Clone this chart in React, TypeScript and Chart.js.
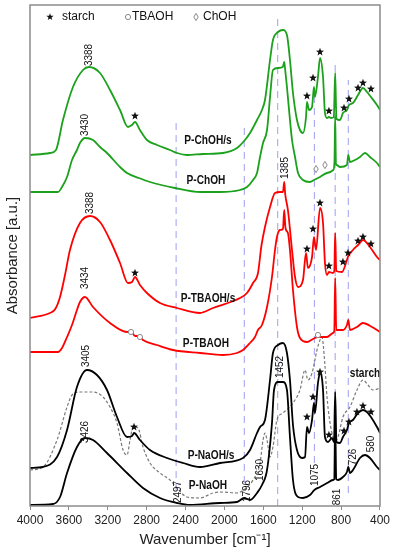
import React, { useEffect, useRef } from "react";
import { Chart, registerables } from "chart.js";

Chart.register(...registerables);

type Pt = [number, number];

// [wavenumber cm-1, absorbance a.u. (offset)]
const P_ChOH_s: Pt[] = [
  [4000, 3.51], [3794, 3.53], [3733, 3.56], [3661, 3.86], [3558, 4.19], [3455, 4.36], [3393, 4.39], [3280, 4.33],
  [3177, 4.16], [3074, 3.96], [2992, 3.79], [2951, 3.81], [2920, 3.84], [2869, 3.76], [2797, 3.66], [2694, 3.61],
  [2560, 3.56], [2488, 3.53], [2385, 3.51], [2220, 3.52], [2015, 3.53], [1871, 3.58], [1789, 3.66], [1737, 3.73],
  [1665, 3.86], [1614, 3.96], [1583, 4.06], [1531, 4.46], [1501, 4.66], [1449, 4.74], [1398, 4.76], [1357, 4.71],
  [1326, 4.46], [1295, 4.13], [1254, 3.86], [1223, 3.76], [1192, 3.73], [1161, 3.89], [1151, 4.04], [1130, 3.96],
  [1099, 3.99], [1079, 4.19], [1069, 4.09], [1038, 4.29], [1017, 4.48], [986, 4.29], [966, 3.93], [945, 3.88],
  [925, 3.89], [904, 3.88], [875, 3.89], [861, 4.33], [848, 3.87], [811, 3.86], [781, 3.93], [740, 3.96],
  [719, 4.01], [678, 4.03], [626, 4.11], [575, 4.18], [534, 4.14], [493, 4.09], [431, 4.01], [400, 3.96],
];

const P_ChOH: Pt[] = [
  [4000, 3.14], [3712, 3.14], [3671, 3.19], [3619, 3.29], [3568, 3.46], [3517, 3.56], [3486, 3.63], [3434, 3.68],
  [3352, 3.66], [3280, 3.59], [3208, 3.53], [3074, 3.39], [3002, 3.33], [2880, 3.28], [2766, 3.24], [2509, 3.18],
  [2251, 3.14], [2046, 3.14], [1840, 3.16], [1768, 3.19], [1706, 3.26], [1665, 3.33], [1634, 3.49], [1603, 3.63],
  [1562, 3.76], [1531, 4.09], [1501, 4.36], [1449, 4.38], [1400, 4.39], [1385, 4.44], [1375, 4.36], [1357, 4.19],
  [1326, 3.86], [1305, 3.66], [1274, 3.49], [1243, 3.33], [1192, 3.26], [1120, 3.24], [1079, 3.26], [1017, 3.29],
  [945, 3.33], [880, 3.36], [868, 3.45], [861, 3.90], [853, 3.42], [845, 3.41], [811, 3.39], [740, 3.41],
  [726, 3.51], [709, 3.44], [657, 3.46], [606, 3.49], [554, 3.53], [503, 3.49], [431, 3.43], [400, 3.39],
];

const P_TBAOH_s: Pt[] = [
  [4000, 1.88], [3794, 1.93], [3740, 1.97], [3691, 2.09], [3640, 2.31], [3589, 2.56], [3486, 2.83], [3383, 2.90],
  [3280, 2.84], [3177, 2.66], [3074, 2.43], [2992, 2.23], [2951, 2.24], [2920, 2.29], [2869, 2.21], [2797, 2.13],
  [2663, 2.03], [2488, 1.98], [2251, 1.93], [2118, 1.98], [1840, 2.08], [1768, 2.13], [1706, 2.23], [1655, 2.33],
  [1620, 2.60], [1583, 2.79], [1531, 2.99], [1480, 3.13], [1429, 3.14], [1398, 3.14], [1385, 3.24], [1375, 3.12],
  [1347, 2.96], [1305, 2.56], [1274, 2.29], [1243, 2.19], [1192, 2.26], [1161, 2.53], [1141, 2.38], [1099, 2.49],
  [1079, 2.69], [1058, 2.56], [1017, 2.98], [986, 2.83], [966, 2.43], [945, 2.31], [925, 2.34], [883, 2.33],
  [870, 2.35], [861, 2.73], [850, 2.35], [791, 2.34], [740, 2.46], [726, 2.50], [678, 2.56], [626, 2.61],
  [575, 2.66], [503, 2.59], [431, 2.49], [400, 2.46],
];

const P_TBAOH: Pt[] = [
  [4000, 1.54], [3712, 1.54], [3671, 1.58], [3619, 1.69], [3568, 1.81], [3517, 1.96], [3486, 2.04], [3434, 2.09],
  [3352, 1.99], [3177, 1.83], [3002, 1.74], [2961, 1.75], [2920, 1.70], [2879, 1.70], [2838, 1.66], [2694, 1.61],
  [2529, 1.56], [2251, 1.53], [2015, 1.51], [1871, 1.53], [1809, 1.56], [1737, 1.63], [1686, 1.69], [1655, 1.76],
  [1614, 1.81], [1562, 1.99], [1511, 2.29], [1480, 2.56], [1460, 2.69], [1429, 2.76], [1398, 2.77], [1385, 2.96],
  [1372, 2.78], [1347, 2.73], [1326, 2.56], [1295, 2.16], [1254, 1.79], [1223, 1.68], [1151, 1.64], [1089, 1.67],
  [1038, 1.69], [945, 1.69], [883, 1.73], [870, 1.75], [861, 2.28], [850, 1.76], [781, 1.76], [740, 1.81],
  [726, 1.86], [709, 1.76], [637, 1.79], [575, 1.83], [482, 1.79], [400, 1.74],
];

const P_NaOH_s: Pt[] = [
  [4000, 0.38], [3866, 0.39], [3722, 0.49], [3619, 0.76], [3517, 1.19], [3414, 1.36], [3311, 1.31], [3208, 1.16],
  [3105, 0.89], [3002, 0.69], [2951, 0.70], [2930, 0.73], [2869, 0.66], [2766, 0.56], [2591, 0.48], [2426, 0.43],
  [2251, 0.39], [2046, 0.43], [1809, 0.48], [1737, 0.56], [1665, 0.73], [1634, 0.79], [1583, 0.86], [1531, 1.26],
  [1501, 1.53], [1449, 1.61], [1398, 1.63], [1357, 1.53], [1326, 1.26], [1295, 0.81], [1254, 0.56], [1202, 0.48],
  [1171, 0.49], [1151, 0.79], [1130, 0.73], [1099, 0.86], [1079, 1.03], [1069, 0.93], [1038, 1.23], [1017, 1.33],
  [986, 1.16], [966, 0.69], [935, 0.64], [894, 0.68], [873, 0.64], [861, 1.14], [848, 0.64], [811, 0.63],
  [781, 0.69], [740, 0.76], [719, 0.83], [678, 0.86], [626, 0.93], [575, 0.96], [534, 0.94], [493, 0.89],
  [431, 0.79], [400, 0.73],
];

const P_NaOH: Pt[] = [
  [4000, 0.01], [3763, 0.02], [3691, 0.09], [3619, 0.33], [3517, 0.59], [3434, 0.68], [3352, 0.66], [3208, 0.53],
  [3002, 0.33], [2838, 0.18], [2663, 0.08], [2488, 0.03], [2354, 0.01], [2046, 0.03], [1871, 0.04], [1796, 0.08],
  [1737, 0.06], [1665, 0.13], [1614, 0.21], [1562, 0.36], [1511, 0.83], [1490, 1.16], [1449, 1.24], [1398, 1.24],
  [1357, 1.16], [1326, 0.69], [1295, 0.26], [1243, 0.09], [1192, 0.08], [1120, 0.11], [1075, 0.16], [1017, 0.19],
  [945, 0.23], [883, 0.26], [870, 0.27], [861, 0.86], [850, 0.27], [832, 0.26], [781, 0.29], [740, 0.34],
  [726, 0.39], [709, 0.33], [678, 0.36], [606, 0.48], [554, 0.51], [503, 0.48], [431, 0.39], [400, 0.36],
];

const starch: Pt[] = [
  [4000, 0.36], [3866, 0.39], [3722, 0.66], [3619, 0.99], [3568, 1.11], [3486, 1.14], [3352, 1.14], [3249, 1.09],
  [3177, 0.99], [3105, 0.83], [3043, 0.56], [3002, 0.51], [2971, 0.66], [2940, 0.79], [2889, 0.78], [2838, 0.59],
  [2766, 0.43], [2663, 0.33], [2560, 0.26], [2488, 0.18], [2385, 0.09], [2251, 0.08], [2118, 0.13], [2015, 0.14],
  [1871, 0.13], [1768, 0.19], [1706, 0.26], [1634, 0.43], [1603, 0.66], [1583, 0.73], [1562, 0.66], [1531, 0.49],
  [1501, 0.59], [1460, 0.86], [1398, 0.93], [1295, 1.03], [1223, 1.16], [1171, 1.36], [1141, 1.26], [1099, 1.33],
  [1048, 1.56], [1017, 1.66], [997, 1.69], [966, 1.40], [945, 1.09], [894, 0.73], [853, 0.66], [832, 0.69],
  [781, 0.89], [709, 0.99], [637, 1.16], [575, 1.26], [524, 1.21], [472, 1.16], [400, 1.18],
];

// dashed reference lines
const refLineWn = [2497, 1796, 1452, 1075, 861, 726];
const refLineTop = [3.83, 3.79, 4.89, 4.16, 4.46, 4.26];
const refLineBottom = [0.16, 0.23, 0.0, 0.43, 0.26, 0.13];

const xTickValues = [4000, 3600, 3200, 2800, 2400, 2000, 1600, 1200, 800, 400];

const starMarks: Pt[] = [
  [2920, 3.90], [1151, 4.10], [1089, 4.28], [1017, 4.54], [925, 3.95], [770, 3.98], [719, 4.07], [626, 4.18], [575, 4.23], [493, 4.17],
  [2920, 2.33], [1151, 2.57], [1089, 2.77], [1017, 3.03], [925, 2.40], [781, 2.44], [729, 2.53], [626, 2.65], [575, 2.69], [493, 2.62],
  [2930, 0.79], [1151, 0.89], [1089, 1.09], [1017, 1.34], [925, 0.71], [770, 0.75], [719, 0.84], [637, 0.94], [575, 1.00], [493, 0.94],
];
const circleMarks: Pt[] = [[2961, 1.74], [2869, 1.69], [1038, 1.71]];
const diamondMarks: Pt[] = [[1058, 3.37], [966, 3.41]];

const peakLabels: [string, number, number][] = [
  ["3388", 3393, 4.51], ["3430", 3434, 3.81], ["1385", 1377, 3.38], ["3388", 3383, 3.03],
  ["3434", 3434, 2.28], ["3405", 3424, 1.50], ["3426", 3434, 0.74], ["2497", 2478, 0.14],
  ["1796", 1768, 0.15], ["1630", 1634, 0.36], ["1452", 1429, 1.39], ["1075", 1069, 0.31],
  ["861", 842, 0.09], ["726", 678, 0.49], ["580", 493, 0.62],
];
const sampleLabels: [string, number, number][] = [
  ["P-ChOH/s", 2169, 3.66], ["P-ChOH", 2190, 3.26], ["P-TBAOH/s", 2169, 2.08], ["P-TBAOH", 2190, 1.63],
  ["P-NaOH/s", 2138, 0.51], ["P-NaOH", 2169, 0.21], ["starch", 554, 1.33],
];
const legendLabels = ["starch", "TBAOH", "ChOH"];

const FONT = "'Liberation Sans', Arial, sans-serif";

function starPath(ctx: CanvasRenderingContext2D, cx: number, cy: number, r: number) {
  ctx.beginPath();
  for (let i = 0; i < 10; i++) {
    const ang = -Math.PI / 2 + (i * Math.PI) / 5;
    const rr = i % 2 === 0 ? r : r * 0.42;
    const px = cx + rr * Math.cos(ang);
    const py = cy + rr * Math.sin(ang);
    if (i === 0) ctx.moveTo(px, py);
    else ctx.lineTo(px, py);
  }
  ctx.closePath();
  ctx.fill();
}
function circlePath(ctx: CanvasRenderingContext2D, cx: number, cy: number) {
  ctx.beginPath();
  ctx.arc(cx, cy, 2.6, 0, Math.PI * 2);
  ctx.fillStyle = "#fff";
  ctx.fill();
  ctx.strokeStyle = "#8a8a8a";
  ctx.lineWidth = 1;
  ctx.stroke();
}
function diamondPath(ctx: CanvasRenderingContext2D, cx: number, cy: number) {
  ctx.beginPath();
  ctx.moveTo(cx, cy - 3.6);
  ctx.lineTo(cx + 2.2, cy);
  ctx.lineTo(cx, cy + 3.6);
  ctx.lineTo(cx - 2.2, cy);
  ctx.closePath();
  ctx.fillStyle = "#fff";
  ctx.fill();
  ctx.strokeStyle = "#8a8a8a";
  ctx.lineWidth = 1;
  ctx.stroke();
}

const annotatePlugin = {
  id: "annotate",
  afterDatasetsDraw(chart: any) {
    const { ctx, chartArea: a, scales } = chart;
    const x = scales.x;
    const y = scales.y;
    ctx.save();
    ctx.fillStyle = "#111";
    starMarks.forEach(([w, v]) => starPath(ctx, x.getPixelForValue(w), y.getPixelForValue(v), 4.2));
    circleMarks.forEach(([w, v]) => circlePath(ctx, x.getPixelForValue(w), y.getPixelForValue(v)));
    diamondMarks.forEach(([w, v]) => diamondPath(ctx, x.getPixelForValue(w), y.getPixelForValue(v)));

    // rotated peak labels
    ctx.fillStyle = "#111";
    ctx.font = `10px ${FONT}`;
    ctx.textAlign = "center";
    ctx.textBaseline = "middle";
    peakLabels.forEach(([t, w, v]) => {
      ctx.save();
      ctx.translate(x.getPixelForValue(w), y.getPixelForValue(v));
      ctx.rotate(-Math.PI / 2);
      ctx.fillText(t, 0, 0);
      ctx.restore();
    });

    // sample labels
    ctx.font = `bold 13px ${FONT}`;
    sampleLabels.forEach(([t, w, v]) => {
      ctx.save();
      ctx.translate(x.getPixelForValue(w), y.getPixelForValue(v));
      ctx.scale(0.78, 1);
      ctx.fillText(t, 0, 0);
      ctx.restore();
    });

    // legend
    ctx.font = `12px ${FONT}`;
    ctx.textAlign = "left";
    const ly = a.top + 12;
    ctx.fillStyle = "#111";
    starPath(ctx, a.left + 20, ly, 3.8);
    ctx.fillText(legendLabels[0], a.left + 32, ly);
    circlePath(ctx, a.left + 98, ly);
    ctx.fillStyle = "#111";
    ctx.fillText(legendLabels[1], a.left + 102, ly);
    diamondPath(ctx, a.left + 166, ly);
    ctx.fillStyle = "#111";
    ctx.fillText(legendLabels[2], a.left + 173, ly);
    ctx.restore();
  },
  afterDraw(chart: any) {
    const { ctx, chartArea: a } = chart;
    ctx.save();
    ctx.strokeStyle = "#8c8c8c";
    ctx.lineWidth = 1.5;
    ctx.strokeRect(a.left, a.top, a.right - a.left, a.bottom - a.top);
    ctx.restore();
  },
};

const toXY = (pts: Pt[]) => pts.map(([w, v]) => ({ x: w, y: v }));

export default function App() {
  const ref = useRef<HTMLCanvasElement>(null);
  useEffect(() => {
    if (!ref.current) return;
    const curve = (label: string, pts: Pt[], color: string, extra: any = {}) => ({
      label,
      data: toXY(pts),
      borderColor: color,
      borderWidth: 1.8,
      pointRadius: 0,
      fill: false,
      tension: 0.35,
      cubicInterpolationMode: "monotone",
      order: 1,
      ...extra,
    });
    const refSets = refLineWn.map((w, i) => ({
      label: `ref${w}`,
      data: [
        { x: w, y: refLineBottom[i] },
        { x: w, y: refLineTop[i] },
      ],
      borderColor: "#9f9ff2",
      borderWidth: 1,
      borderDash: [7, 5],
      pointRadius: 0,
      fill: false,
      tension: 0,
      order: 5,
    }));
    const chart = new Chart(ref.current, {
      type: "line",
      data: {
        datasets: [
          curve("P-NaOH/s", P_NaOH_s, "#000"),
          curve("P-NaOH", P_NaOH, "#000"),
          curve("starch", starch, "#7a7a7a", { borderWidth: 1.2, borderDash: [3, 2], order: 2 }),
          curve("P-TBAOH/s", P_TBAOH_s, "#ff0000"),
          curve("P-TBAOH", P_TBAOH, "#ff0000"),
          curve("P-ChOH/s", P_ChOH_s, "#1ba11b"),
          curve("P-ChOH", P_ChOH, "#1ba11b"),
          ...refSets,
        ] as any,
      },
      options: {
        animation: false,
        responsive: false,
        maintainAspectRatio: false,
        layout: { padding: { top: 5, right: 12, left: 0, bottom: 0 } },
        plugins: { legend: { display: false }, tooltip: { enabled: false } },
        scales: {
          x: {
            type: "linear",
            reverse: true,
            min: 400,
            max: 4000,
            afterFit: (s: any) => {
              s.height = 44;
            },
            afterBuildTicks: (s: any) => {
              s.ticks = xTickValues.map((v) => ({ value: v }));
            },
            ticks: {
              color: "#222",
              font: { family: FONT, size: 12 },
              padding: 3,
              maxRotation: 0,
              autoSkip: false,
              callback: (v: any) => String(v),
            },
            grid: { drawOnChartArea: false, drawTicks: true, tickLength: 4, color: "#8c8c8c" },
            border: { display: false },
            title: {
              display: true,
              text: "Wavenumber [cm\u207B\u00B9]",
              color: "#222",
              font: { family: FONT, size: 15 },
              padding: { top: 0, bottom: 1 },
            },
          },
          y: {
            type: "linear",
            min: 0,
            max: 5.01,
            afterFit: (s: any) => {
              s.width = 30;
            },
            ticks: { display: false },
            grid: { display: false },
            border: { display: false },
            title: {
              display: true,
              text: "Absorbance [a.u.]",
              color: "#222",
              font: { family: FONT, size: 15 },
              padding: { top: 4, bottom: 0 },
            },
          },
        },
      } as any,
      plugins: [annotatePlugin],
    });
    return () => chart.destroy();
  }, []);
  return (
    <div style={{ position: "absolute", left: 0, top: 0, width: 393, height: 550, background: "#fff" }}>
      <canvas ref={ref} width={393} height={550} style={{ width: 393, height: 550 }} />
    </div>
  );
}
